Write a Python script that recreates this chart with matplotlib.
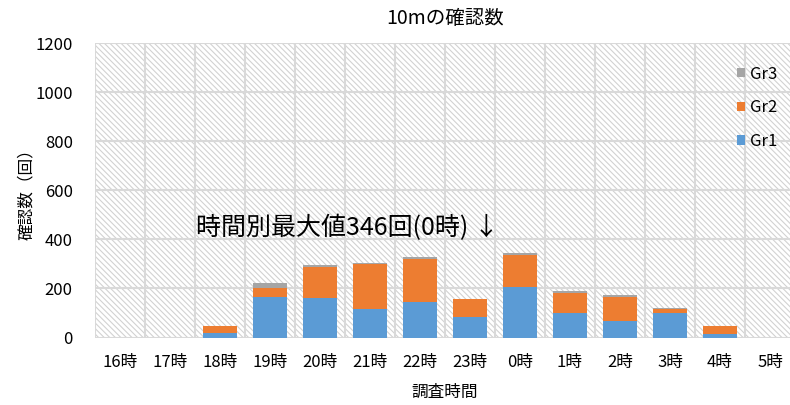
import matplotlib.pyplot as plt
import matplotlib.patches as mpatches
import numpy as np

plt.rcParams['font.family'] = ['Noto Sans CJK JP', 'DejaVu Sans']
plt.rcParams['hatch.linewidth'] = 0.8

# hourly counts per group
hours = ['16時', '17時', '18時', '19時', '20時', '21時', '22時',
         '23時', '0時', '1時', '2時', '3時', '4時', '5時']
gr1 = [0, 0, 17, 164, 162, 115, 143, 84, 208, 99, 67, 99, 16, 0]
gr2 = [0, 0, 28, 39, 124, 183, 178, 72, 130, 84, 99, 18, 30, 0]
gr3 = [0, 0, 0, 21, 10, 4, 9, 0, 8, 5, 7, 4, 0, 0]

c1, c2, c3 = '#5B9BD5', '#ED7D31', '#A5A5A5'
grid_c = '#D9D9D9'

fig = plt.figure(figsize=(7.9, 4.05), dpi=100)
ax = fig.add_axes([95 / 790, 67.5 / 405, 700 / 790, 294.2 / 405])

# hatched plot background
bg = mpatches.Rectangle((0, 0), 1, 1, transform=ax.transAxes, facecolor='white',
                        edgecolor='#D2D2D2', hatch='\\\\\\\\\\\\', lw=0, zorder=0)
ax.add_patch(bg)

x = np.arange(len(hours))
w = 0.68
b1 = ax.bar(x, gr1, w, color=c1, zorder=3, label='Gr1')
b2 = ax.bar(x, gr2, w, bottom=gr1, color=c2, zorder=3, label='Gr2')
b3 = ax.bar(x, gr3, w, bottom=np.add(gr1, gr2), color=c3, zorder=3, label='Gr3')

ax.set_xlim(-0.5, len(hours) - 0.5)
ax.set_ylim(0, 1200)
ax.set_yticks(range(0, 1201, 200))
ax.set_xticks(x)
ax.set_xticklabels(hours)
ax.set_xticks(np.arange(-0.5, len(hours), 1), minor=True)

ax.grid(axis='y', color=grid_c, lw=1.5, zorder=1)
ax.grid(axis='x', which='minor', color=grid_c, lw=1.5, zorder=1)
ax.grid(axis='x', which='major', visible=False)
for s in ax.spines.values():
    s.set_visible(False)
ax.tick_params(which='both', length=0, labelsize=12, colors='black')
ax.tick_params(axis='x', pad=12)
ax.tick_params(axis='y', pad=16)

ax.set_title('10mの確認数', fontsize=14, pad=14)
ax.set_xlabel('調査時間', fontsize=12, labelpad=9)
ax.set_ylabel('確認数（回）', fontsize=12, labelpad=0)

peak = int(np.argmax(np.add(np.add(gr1, gr2), gr3)))
peak_total = gr1[peak] + gr2[peak] + gr3[peak]
ax.text(1.52, 447, f'時間別最大値{peak_total}回({hours[peak]}) ↓',
        fontsize=18, va='center', ha='left', zorder=4)

ax.legend(handles=[b3, b2, b1], loc='upper left', bbox_to_anchor=(0.895, 0.975),
          frameon=False, fontsize=12, handlelength=0.5, handleheight=0.5,
          handletextpad=0.3, labelspacing=1.0)

fig.savefig('out.png', dpi=100)
